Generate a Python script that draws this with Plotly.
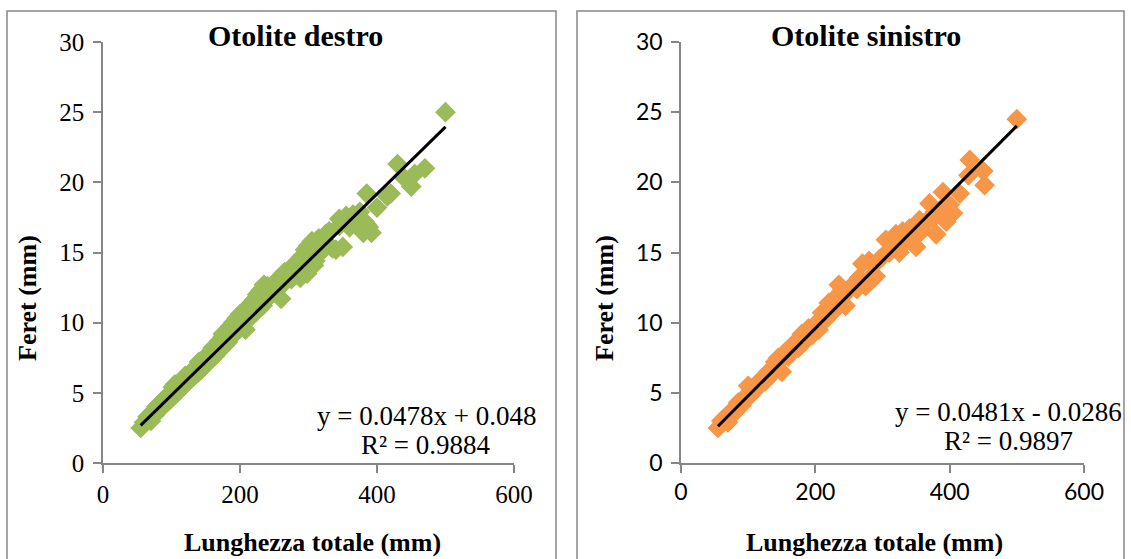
import plotly.graph_objects as go

# ---------------- data ----------------
dx_left = [55, 60, 65, 70, 72, 75, 78, 80, 82, 85, 88, 90, 92, 95, 98, 100, 102, 105, 108, 110,
           112, 115, 118, 120, 122, 125, 128, 130, 133, 135, 138, 140, 142, 145, 148, 150, 152, 155,
           158, 160, 163, 165, 168, 170, 172, 175, 178, 180, 182, 185, 188, 190, 193, 195, 198, 200,
           202, 205, 208, 210, 212, 215, 218, 220, 222, 225, 228, 230, 233, 235, 238, 240, 245, 248,
           250, 255, 258, 260, 265, 270, 275, 278, 280, 285, 288, 290, 295, 298, 300, 305, 310, 312,
           315, 320, 325, 330, 335, 340, 345, 350, 355, 360, 365, 370, 375, 380, 382, 385, 388, 400,
           415, 420, 430, 438, 450, 455, 470, 500,
           120, 140, 160, 175, 185, 195, 205, 215, 225, 240, 255, 265, 280, 300, 320, 345, 360, 385, 392, 308]
fy_left = [2.5, 2.9, 3.3, 3.0, 3.6, 3.4, 4.0, 3.7, 4.2, 3.9, 4.5, 4.2, 4.7, 4.4, 4.9, 4.6, 5.4, 5.6, 5.0, 5.5,
           5.2, 5.8, 5.5, 6.0, 5.7, 6.3, 6.0, 6.5, 6.2, 6.8, 6.4, 7.0, 6.6, 7.3, 6.9, 7.6, 7.1, 7.8,
           7.4, 8.0, 7.6, 8.3, 7.9, 8.7, 8.1, 9.0, 8.4, 9.4, 8.6, 9.7, 9.0, 10.0, 9.3, 10.3, 9.6, 10.6,
           9.9, 10.8, 9.5, 10.9, 10.3, 11.3, 10.5, 11.6, 10.8, 12.0, 11.1, 12.3, 11.2, 12.7, 11.6, 12.6, 12.0, 12.4,
           12.2, 12.9, 12.5, 11.7, 13.3, 13.5, 13.1, 14.0, 13.6, 14.4, 13.2, 14.7, 15.2, 13.5, 15.5, 15.8, 14.4, 15.6,
           16.0, 15.1, 16.3, 16.5, 15.3, 15.2, 16.9, 15.4, 17.6, 17.3, 17.7, 17.3, 17.9, 16.4, 17.2, 19.2, 16.8, 18.2,
           19.0, 19.2, 21.3, 20.4, 19.7, 20.6, 21.0, 25.0,
           6.2, 7.2, 8.2, 9.2, 9.6, 10.0, 10.4, 10.8, 11.6, 12.2, 13.1, 13.6, 14.2, 14.9, 15.9, 17.4, 16.8, 17.0, 16.4, 14.1]

dx_right = [55, 60, 65, 70, 75, 80, 85, 90, 95, 100, 103, 105, 110, 115, 120, 125, 130, 135, 140, 145,
            150, 155, 160, 165, 170, 175, 180, 185, 190, 195, 200, 205, 210, 215, 220, 225, 230, 235,
            240, 245, 250, 255, 260, 265, 270, 275, 280, 285, 290, 295, 300, 305, 310, 315, 320, 325,
            330, 335, 340, 345, 350, 355, 360, 365, 370, 375, 380, 385, 390, 395, 400, 405, 415, 428,
            430, 450, 452, 500,
            128, 148, 172, 198, 218, 228, 262, 312, 338, 362, 378]
fy_right = [2.5, 3.0, 3.2, 2.9, 3.7, 3.6, 4.3, 4.1, 4.7, 5.5, 4.8, 5.2, 5.5, 5.4, 6.0, 5.8, 6.5, 6.3, 7.2, 7.5,
            6.5, 7.9, 7.6, 8.1, 8.6, 8.2, 9.2, 8.7, 9.6, 9.1, 9.9, 9.5, 10.7, 10.2, 11.4, 10.7, 11.8, 12.7,
            12.4, 11.2, 12.3, 12.6, 12.9, 13.2, 14.2, 12.6, 14.4, 13.4, 13.3, 14.5, 14.7, 15.9, 15.0, 15.5, 16.3, 15.0,
            16.5, 15.8, 16.7, 15.9, 15.4, 17.3, 16.6, 17.2, 18.5, 17.4, 16.3, 18.0, 19.3, 17.2, 18.4, 17.8, 19.2, 20.5,
            21.6, 20.8, 19.8, 24.5,
            6.3, 7.3, 8.4, 9.6, 10.6, 11.2, 12.4, 15.2, 16.1, 17.1, 17.9]

titles = ["Otolite destro", "Otolite sinistro"]
slopes = [0.0478, 0.0481]
intercepts = [0.048, -0.0286]
trend_x = [55, 500]
eq_lines = ["y = 0.0478x + 0.048", "y = 0.0481x - 0.0286"]
r2_lines = ["R² = 0.9884", "R² = 0.9897"]
x_ticks = [0, 200, 400, 600]
y_ticks = [0, 5, 10, 15, 20, 25, 30]
x_title = "Lunghezza totale (mm)"
y_title = "Feret (mm)"

# ---------------- figure ----------------
W, H = 1131, 559
SERIF = "Liberation Serif, Times New Roman, serif"
SANS = "Lato, Carlito, Calibri, sans-serif"
GREEN = "#9BBB59"
ORANGE = "#F79646"
AX = "#868686"

fig = go.Figure()

def px(v):
    return v / W

def py(v):
    return 1 - v / H

panels = [
    dict(xd=(103, 514), box=(7, 556), xs="x", ys="y", col=GREEN, tickfont=SERIF, tsize=25,
         title_x=295, ytitle_x=27, eq_x=426, eq_y=(416, 445), xt_x=312),
    dict(xd=(681, 1084), box=(577, 1124), xs="x2", ys="y2", col=ORANGE, tickfont=SANS, tsize=23,
         title_x=866, ytitle_x=604, eq_x=1008, eq_y=(412, 441), xt_x=874),
]

for i, p in enumerate(panels):
    xs, ys = (dx_left, fy_left) if i == 0 else (dx_right, fy_right)
    fig.add_trace(go.Scatter(x=xs, y=ys, mode="markers", xaxis=p["xs"], yaxis=p["ys"],
                             marker=dict(symbol="diamond", size=16, color=p["col"], line=dict(width=0)),
                             showlegend=False, hoverinfo="x+y"))
    ty = [slopes[i] * t + intercepts[i] for t in trend_x]
    fig.add_trace(go.Scatter(x=trend_x, y=ty, mode="lines", xaxis=p["xs"], yaxis=p["ys"],
                             line=dict(color="black", width=3), showlegend=False))

    xa = dict(domain=[px(p["xd"][0]), px(p["xd"][1])], range=[0, 600], tickvals=x_ticks,
              showline=True, linecolor=AX, linewidth=1.5, ticks="outside", ticklen=8,
              tickcolor=AX, tickwidth=1.5, showgrid=False, zeroline=False, automargin=False,
              tickfont=dict(family=p["tickfont"], size=p["tsize"], color="black"),
              anchor="y" if i == 0 else "y2", fixedrange=True)
    ya = dict(domain=[py(463), py(42)], range=[0, 30], tickvals=y_ticks,
              showline=True, linecolor=AX, linewidth=1.5, ticks="outside", ticklen=8,
              tickcolor=AX, tickwidth=1.5, showgrid=False, zeroline=False, automargin=False,
              tickfont=dict(family=p["tickfont"], size=p["tsize"], color="black"),
              ticklabelstandoff=4,
              anchor="x" if i == 0 else "x2", fixedrange=True)
    if i == 0:
        fig.update_layout(xaxis=xa, yaxis=ya)
    else:
        fig.update_layout(xaxis2=xa, yaxis2=ya)

    fig.add_shape(type="rect", xref="paper", yref="paper",
                  x0=px(p["box"][0]), x1=px(p["box"][1]), y0=py(575), y1=py(11),
                  line=dict(color=AX, width=1.5), fillcolor="rgba(0,0,0,0)", layer="below")
    fig.add_annotation(text="<b>" + titles[i] + "</b>", xref="paper", yref="paper",
                       x=px(p["title_x"]), y=py(36), xanchor="center", yanchor="middle",
                       showarrow=False, font=dict(family=SERIF, size=30, color="black"))
    fig.add_annotation(text="<b>" + y_title + "</b>", xref="paper", yref="paper",
                       x=px(p["ytitle_x"]), y=py(298), xanchor="center", yanchor="middle",
                       textangle=-90, showarrow=False, font=dict(family=SERIF, size=26, color="black"))
    fig.add_annotation(text="<b>" + x_title + "</b>", xref="paper", yref="paper",
                       x=px(p["xt_x"]), y=py(542), xanchor="center", yanchor="middle",
                       showarrow=False, font=dict(family=SERIF, size=26, color="black"))
    for txt, yy in zip([eq_lines[i], r2_lines[i]], p["eq_y"]):
        fig.add_annotation(text=txt, xref="paper", yref="paper",
                           x=px(p["eq_x"]), y=py(yy), xanchor="center", yanchor="middle",
                           showarrow=False, font=dict(family=SERIF, size=27, color="black"))

fig.update_layout(width=W, height=H, margin=dict(l=0, r=0, t=0, b=0, autoexpand=False),
                  paper_bgcolor="white", plot_bgcolor="rgba(0,0,0,0)")

fig.write_html("out.html", config={"displayModeBar": False},
               post_script="document.body.style.margin='0';document.body.style.overflow='hidden';")
